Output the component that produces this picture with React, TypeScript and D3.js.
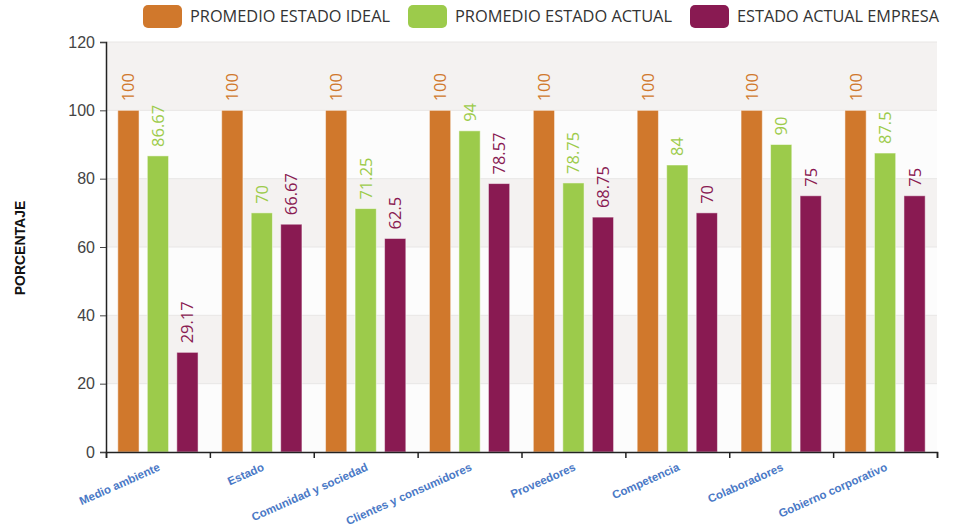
import { useEffect, useRef } from 'react';
import * as d3 from 'd3';

const categories = [
  'Medio ambiente',
  'Estado',
  'Comunidad y sociedad',
  'Clientes y consumidores',
  'Proveedores',
  'Competencia',
  'Colaboradores',
  'Gobierno corporativo',
];

const seriesNames = ['PROMEDIO ESTADO IDEAL', 'PROMEDIO ESTADO ACTUAL', 'ESTADO ACTUAL EMPRESA'];
const seriesColors = ['#d0782c', '#9ccb4b', '#891a52'];

const idealValues = [100, 100, 100, 100, 100, 100, 100, 100];
const actualValues = [86.67, 70, 71.25, 94, 78.75, 84, 90, 87.5];
const empresaValues = [29.17, 66.67, 62.5, 78.57, 68.75, 70, 75, 75];

const yTicks = [0, 20, 40, 60, 80, 100, 120];

function App() {
  const svgRef = useRef<SVGSVGElement>(null);

  useEffect(() => {
    const W = 971;
    const H = 529;
    const left = 106;
    const right = 937;
    const bottom = 452;
    const top = 42;

    const svg = d3.select(svgRef.current);
    svg.selectAll('*').remove();
    svg.attr('width', W).attr('height', H);

    svg.append('rect').attr('width', W).attr('height', H).attr('fill', '#ffffff');

    const x = d3.scaleBand<string>().domain(categories).range([left, right]);
    const xInner = d3
      .scaleBand<number>()
      .domain([0, 1, 2])
      .range([0, x.bandwidth()])
      .paddingInner(0.28)
      .paddingOuter(0.4);
    const y = d3.scaleLinear().domain([0, 120]).range([bottom, top]);

    // alternating background bands
    const bands = d3.pairs(yTicks);
    svg
      .selectAll('.band')
      .data(bands)
      .enter()
      .append('rect')
      .attr('x', left)
      .attr('width', right - left)
      .attr('y', (d) => y(d[1]))
      .attr('height', (d) => y(d[0]) - y(d[1]))
      .attr('fill', (d, i) => (i % 2 === 1 ? '#f4f2f1' : '#fcfcfc'));

    // grid lines
    svg
      .selectAll('.grid')
      .data(yTicks.slice(1))
      .enter()
      .append('line')
      .attr('x1', left)
      .attr('x2', right)
      .attr('y1', (d) => y(d))
      .attr('y2', (d) => y(d))
      .attr('stroke', '#e8e6e5')
      .attr('stroke-width', 1);

    const series = [idealValues, actualValues, empresaValues];
    const data = categories.flatMap((c, ci) =>
      series.map((vals, si) => ({ cat: c, s: si, v: vals[ci] }))
    );

    // bars
    svg
      .selectAll('.bar')
      .data(data)
      .enter()
      .append('rect')
      .attr('x', (d) => (x(d.cat) as number) + (xInner(d.s) as number))
      .attr('y', (d) => y(d.v))
      .attr('width', xInner.bandwidth())
      .attr('height', (d) => bottom - y(d.v))
      .attr('fill', (d) => seriesColors[d.s])
      .attr('stroke', '#ffffff')
      .attr('stroke-opacity', 0.5)
      .attr('stroke-width', 1);

    // value labels
    svg
      .selectAll('.value-label')
      .data(data)
      .enter()
      .append('text')
      .attr(
        'transform',
        (d) =>
          `translate(${(x(d.cat) as number) + (xInner(d.s) as number) + xInner.bandwidth() / 2 + 6},${y(d.v) - 9}) rotate(-90)`
      )
      .attr('text-anchor', 'start')
      .style('font-family', '"Open Sans", "DejaVu Sans", sans-serif')
      .style('font-size', '16.5px')
      .style('fill', (d) => seriesColors[d.s])
      .text((d) => String(d.v));

    // y axis
    const yAxis = svg
      .append('g')
      .attr('transform', `translate(${left},0)`)
      .call(d3.axisLeft(y).tickValues(yTicks).tickSize(6).tickPadding(5));
    yAxis.select('.domain').attr('stroke', '#222').attr('stroke-width', 1.5);
    yAxis.selectAll('.tick line').attr('stroke', '#444');
    yAxis
      .selectAll('text')
      .style('font-family', '"Liberation Sans", Arial, sans-serif')
      .style('font-size', '16px')
      .style('fill', '#444');

    // x axis
    const xAxis = svg
      .append('g')
      .attr('transform', `translate(0,${bottom})`)
      .call(
        d3
          .axisBottom(d3.scaleLinear().domain([0, categories.length]).range([left, right]))
          .ticks(categories.length)
          .tickSize(6)
          .tickFormat(() => '')
      );
    xAxis.select('.domain').attr('stroke', '#222').attr('stroke-width', 1.5);
    xAxis.selectAll('.tick line').attr('stroke', '#222').attr('stroke-width', 1.5);

    svg
      .selectAll('.cat-label')
      .data(categories)
      .enter()
      .append('text')
      .attr('transform', (d) => `translate(${(x(d) as number) + x.bandwidth() / 2 + 3},${bottom + 18}) rotate(-24)`)
      .attr('text-anchor', 'end')
      .style('font-family', '"Liberation Sans", Arial, sans-serif')
      .style('font-size', '11.5px')
      .style('font-weight', 'bold')
      .style('fill', '#4a79c6')
      .text((d) => d);

    // y axis title
    svg
      .append('text')
      .attr('transform', `translate(25,${248}) rotate(-90)`)
      .attr('text-anchor', 'middle')
      .style('font-family', '"Liberation Sans", Arial, sans-serif')
      .style('font-size', '14px')
      .style('font-weight', 'bold')
      .style('fill', '#111')
      .text('PORCENTAJE');

    // legend
    const legendX = [143, 408, 690];
    const legendTextW = [200, 217, 202];
    const legend = svg
      .selectAll('.legend')
      .data(seriesNames)
      .enter()
      .append('g')
      .attr('transform', (d, i) => `translate(${legendX[i]},5)`);
    legend
      .append('rect')
      .attr('width', 39)
      .attr('height', 23)
      .attr('rx', 5)
      .attr('fill', (d, i) => seriesColors[i]);
    legend
      .append('text')
      .attr('x', 47)
      .attr('y', 17)
      .attr('textLength', (d, i) => legendTextW[i])
      .attr('lengthAdjust', 'spacingAndGlyphs')
      .style('font-family', '"Open Sans", sans-serif')
      .style('font-size', '16px')
      .style('fill', '#333')
      .text((d) => d);
  }, []);

  return <svg ref={svgRef} style={{ position: 'absolute', left: 0, top: 0, display: 'block' }}></svg>;
}

export default App;
